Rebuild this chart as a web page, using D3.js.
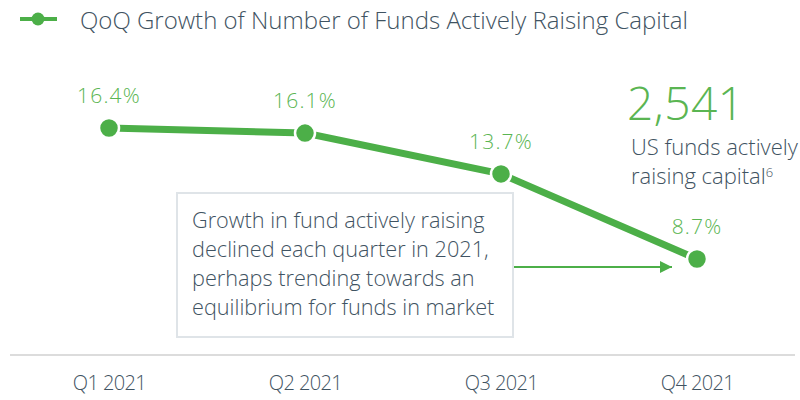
<!DOCTYPE html>
<html>
<head>
<meta charset="utf-8">
<script src="https://cdn.jsdelivr.net/npm/d3@7"></script>
<style>
  body { margin: 0; background: #fff; }
  svg text { font-family: "Open Sans", "Noto Sans", sans-serif; font-weight: 300; }
</style>
</head>
<body>
<div id="chart"></div>
<script>
const WIDTH = 800;
const HEIGHT = 400;
const GREEN = "#4caf48";
const LABEL_GREEN = "#5ab552";
const SLATE = "#3f5362";

// data
const quarters = ["Q1 2021", "Q2 2021", "Q3 2021", "Q4 2021"];
const growth = [16.4, 16.1, 13.7, 8.7];
const growthLabels = ["16.4%", "16.1%", "13.7%", "8.7%"];
const noteLines = [
  "Growth in fund actively raising",
  "declined each quarter in 2021,",
  "perhaps trending towards an",
  "equilibrium for funds in market"
];
const calloutValue = "2,541";
const calloutLines = ["US funds actively", "raising capital"];

const svg = d3.select("#chart")
  .append("svg")
  .attr("width", WIDTH)
  .attr("height", HEIGHT);

const x = d3.scalePoint()
  .domain(quarters)
  .range([109, 697]);

const y = d3.scaleLinear()
  .domain([8.7, 16.4])
  .range([259, 128]);

// legend / title
svg.append("line")
  .attr("x1", 20).attr("x2", 57)
  .attr("y1", 19).attr("y2", 19)
  .attr("stroke", GREEN).attr("stroke-width", 4);
svg.append("circle")
  .attr("cx", 38).attr("cy", 19).attr("r", 6.5)
  .attr("fill", GREEN);
svg.append("text")
  .attr("x", 80).attr("y", 29)
  .attr("font-size", 24)
  .attr("fill", SLATE)
  .text("QoQ Growth of Number of Funds Actively Raising Capital");

// baseline + axis
svg.append("line")
  .attr("x1", 10).attr("x2", 795)
  .attr("y1", 355).attr("y2", 355)
  .attr("stroke", "#dcdcdc").attr("stroke-width", 2);

const xAxis = svg.append("g")
  .attr("transform", "translate(0,366)")
  .call(d3.axisBottom(x).tickSize(0).tickPadding(0));
xAxis.select(".domain").remove();
xAxis.selectAll("text")
  .attr("dy", 24)
  .attr("font-size", 20)
  .attr("fill", SLATE)
  .attr("letter-spacing", -0.6)
  .style("font-family", "'Open Sans', sans-serif")
  .style("font-weight", 300);

// annotation box
const box = svg.append("g");
box.append("rect")
  .attr("x", 177).attr("y", 193)
  .attr("width", 336).attr("height", 144)
  .attr("fill", "#fff")
  .attr("stroke", "#dfe4e8").attr("stroke-width", 2);
box.selectAll("text.note")
  .data(noteLines)
  .enter()
  .append("text")
  .attr("class", "note")
  .attr("x", 192)
  .attr("y", (d, i) => 228 + i * 29)
  .attr("font-size", 21.7)
  .attr("fill", SLATE)
  .text(d => d);

// arrow
svg.append("defs").append("marker")
  .attr("id", "arrow")
  .attr("viewBox", "0 0 10 10")
  .attr("refX", 10).attr("refY", 5)
  .attr("markerWidth", 6).attr("markerHeight", 6)
  .attr("markerUnits", "strokeWidth")
  .attr("orient", "auto")
  .append("path")
  .attr("d", "M0,0 L10,5 L0,10 Z")
  .attr("fill", GREEN);
svg.append("line")
  .attr("x1", 514).attr("x2", 672)
  .attr("y1", 267).attr("y2", 267)
  .attr("stroke", GREEN).attr("stroke-width", 2)
  .attr("marker-end", "url(#arrow)");

// line
const line = d3.line()
  .x((d, i) => x(quarters[i]))
  .y(d => y(d));
svg.append("path")
  .datum(growth)
  .attr("d", line)
  .attr("fill", "none")
  .attr("stroke", GREEN)
  .attr("stroke-width", 7);

svg.append("g")
  .selectAll("circle")
  .data(growth)
  .enter()
  .append("circle")
  .attr("cx", (d, i) => x(quarters[i]))
  .attr("cy", d => y(d))
  .attr("r", 10)
  .attr("fill", GREEN)
  .attr("stroke", "#fff")
  .attr("stroke-width", 2.5);

svg.append("g")
  .selectAll("text")
  .data(growth)
  .enter()
  .append("text")
  .attr("x", (d, i) => x(quarters[i]))
  .attr("y", d => y(d) - 25)
  .attr("text-anchor", "middle")
  .attr("font-size", 21)
  .attr("letter-spacing", 1.2)
  .attr("fill", LABEL_GREEN)
  .text((d, i) => growthLabels[i]);

// callout
svg.append("text")
  .attr("x", 627).attr("y", 120)
  .attr("font-size", 46)
  .attr("letter-spacing", 0.5)
  .attr("fill", LABEL_GREEN)
  .text(calloutValue);
const callout = svg.append("g");
callout.selectAll("text")
  .data(calloutLines)
  .enter()
  .append("text")
  .attr("x", 631)
  .attr("y", (d, i) => 155 + i * 29)
  .attr("font-size", 22)
  .attr("fill", SLATE)
  .text(d => d)
  .filter((d, i) => i === 1)
  .append("tspan")
  .attr("dy", -7)
  .attr("font-size", 13)
  .text("6");
</script>
</body>
</html>
